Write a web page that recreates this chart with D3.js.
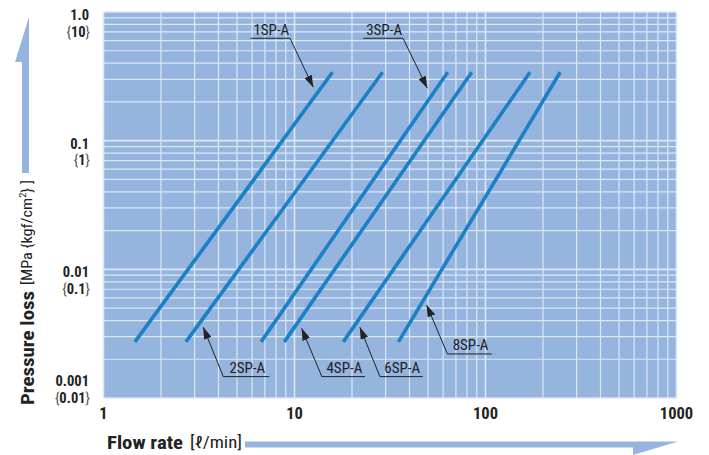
<!DOCTYPE html>
<html><head><meta charset="utf-8">
<script src="https://cdn.jsdelivr.net/npm/d3@7"></script>
<style>
html,body{margin:0;padding:0;background:#fff;}
svg{display:block;font-family:"Liberation Sans Narrow","Roboto Condensed","Roboto","Liberation Sans",sans-serif;}
</style></head>
<body><svg id="c" width="709" height="455"></svg>
<script>
// ---- data ----
const flowTicks = [1, 10, 100, 1000];
const flowTickLabels = ["1", "10", "100", "1000"];
const pressureTicks = [1.0, 0.1, 0.01, 0.001];
const pressureLabels = ["1.0", "0.1", "0.01", "0.001"];
const kgfLabels = ["10", "1", "0.1", "0.01"];
const models = ["1SP-A", "2SP-A", "3SP-A", "4SP-A", "6SP-A", "8SP-A"];
const flowLow = [1.46, 2.70, 6.68, 8.84, 18.0, 35.0];
const flowHigh = [15.8, 28.9, 63.4, 84.7, 171, 246];
const pressureLow = [0.00273, 0.00273, 0.00273, 0.00273, 0.00273, 0.00273];
const pressureHigh = [0.340, 0.340, 0.340, 0.340, 0.340, 0.340];
// callouts: arrow tip (flow, pressure), underline from flow a to flow b at pressure p
const calloutTipFlow = [12.54, 3.33, 49.6, 10.9, 22.0, 49.2];
const calloutTipP = [0.260, 0.00355, 0.2554, 0.00348, 0.00355, 0.00529];
const calloutLineP = [0.625, 0.001466, 0.625, 0.001466, 0.001466, 0.00220];
const calloutFlowA = [5.90, 4.24, 22.9, 13.9, 28.0, 63.2];
const calloutFlowB = [9.47, 7.38, 37.0, 23.4, 46.9, 107.8];
const calloutElbowAtB = [true, false, true, false, false, false];

const svg = d3.select("#c");
const L = 103.5, R = 676.5, T = 12, B = 398;
const x = d3.scaleLog().domain([1, 1000]).range([L, R]);
const y = d3.scaleLog().domain([0.001, 1]).range([B, T]);

const bg = "#95b4de", gridC = "#dce8f6", lineC = "#1c80c6", ink = "#222";

svg.append("rect").attr("x", L).attr("y", T).attr("width", R - L).attr("height", B - T).attr("fill", bg);

const g = svg.append("g");
g.selectAll(".vx").data(x.ticks()).join("line")
  .attr("x1", d => x(d)).attr("x2", d => x(d)).attr("y1", T).attr("y2", B)
  .attr("stroke", gridC).attr("stroke-width", d => flowTicks.includes(d) ? 1.6 : 1.2);
g.selectAll(".hy").data(y.ticks()).join("line")
  .attr("y1", d => y(d)).attr("y2", d => y(d)).attr("x1", L).attr("x2", R)
  .attr("stroke", gridC).attr("stroke-width", d => pressureTicks.includes(d) ? 1.6 : 1.2);

// series lines
const series = models.map((m, i) => ({ name: m, pts: [[flowLow[i], pressureLow[i]], [flowHigh[i], pressureHigh[i]]] }));
const line = d3.line().x(d => x(d[0])).y(d => y(d[1]));
svg.selectAll(".s").data(series).join("path")
  .attr("d", d => line(d.pts)).attr("fill", "none")
  .attr("stroke", lineC).attr("stroke-width", 3.6).attr("stroke-linecap", "butt");

// callouts
const defs = svg.append("defs");
defs.append("marker").attr("id", "ah").attr("viewBox", "0 0 12 8").attr("refX", 12).attr("refY", 4)
  .attr("markerWidth", 12).attr("markerHeight", 8).attr("markerUnits", "userSpaceOnUse").attr("orient", "auto")
  .append("path").attr("d", "M0,0 L12,4 L0,8 Z").attr("fill", ink);

models.forEach((m, i) => {
  const ly = y(calloutLineP[i]);
  const xa = x(calloutFlowA[i]), xb = x(calloutFlowB[i]);
  const ex = calloutElbowAtB[i] ? xb : xa;
  svg.append("path")
    .attr("d", `M${xa},${ly} L${xb},${ly}`).attr("stroke", ink).attr("stroke-width", 1).attr("fill", "none");
  svg.append("line").attr("x1", ex).attr("y1", ly).attr("x2", x(calloutTipFlow[i])).attr("y2", y(calloutTipP[i]))
    .attr("stroke", ink).attr("stroke-width", 1).attr("marker-end", "url(#ah)");
  svg.append("text").attr("x", (xa + xb) / 2 + 1).attr("y", ly - 3.5).attr("text-anchor", "middle")
    .attr("font-size", 15).attr("fill", ink).text(m);
});

// y tick labels
pressureTicks.forEach((p, i) => {
  const py = y(p);
  const off = i === pressureTicks.length - 1 ? -20 : 0;
  svg.append("text").attr("x", 89).attr("y", py + off + 8).attr("text-anchor", "end")
    .attr("font-size", 14.5).attr("font-weight", "bold").attr("fill", ink).text(pressureLabels[i]);
  const t = svg.append("text").attr("x", 90).attr("y", py + off + 24.5).attr("text-anchor", "end")
    .attr("font-size", 14.5).attr("fill", ink);
  t.append("tspan").attr("font-weight", "normal").attr("fill", "#555").text("{");
  t.append("tspan").attr("font-weight", "bold").text(kgfLabels[i]);
  t.append("tspan").attr("font-weight", "normal").attr("fill", "#555").text("}");
});

// x tick labels
flowTicks.forEach((f, i) => {
  svg.append("text").attr("x", x(f)).attr("y", 419).attr("text-anchor", "middle")
    .attr("font-size", 16.5).attr("font-weight", "bold").attr("fill", ink).text(flowTickLabels[i]);
});

// x title
svg.append("text").attr("x", 107).attr("y", 449).attr("font-size", 19).attr("font-weight", "bold")
  .attr("fill", ink).attr("textLength", 76).attr("lengthAdjust", "spacingAndGlyphs").text("Flow rate");
svg.append("text").attr("x", 190).attr("y", 448).attr("font-size", 16).attr("fill", ink)
  .attr("textLength", 52).attr("lengthAdjust", "spacingAndGlyphs").text("[ℓ/min]");
// x arrow
svg.append("path").attr("d", "M245,441.5 L678,441.5 L633,455 L633,447.5 L245,447.5 Z").attr("fill", bg);

// y title
const yt = svg.append("g").attr("transform", "translate(34,405) rotate(-90)");
yt.append("text").attr("x", 0).attr("y", 0).attr("font-size", 19).attr("font-weight", "bold").attr("fill", ink)
  .attr("textLength", 114).attr("lengthAdjust", "spacingAndGlyphs").text("Pressure loss");
const yt2 = yt.append("text").attr("x", 120).attr("y", -2).attr("font-size", 14).attr("fill", ink)
  .attr("textLength", 105).attr("lengthAdjust", "spacingAndGlyphs");
yt2.append("tspan").text("[MPa {kgf/cm");
yt2.append("tspan").attr("font-size", 9).attr("dy", -6).text("2");
yt2.append("tspan").attr("dy", 6).text("} ]");
// y arrow
svg.append("path").attr("d", "M22,173 L22,62 L15,62 L29,17 L29,173 Z").attr("fill", bg);
</script></body></html>
